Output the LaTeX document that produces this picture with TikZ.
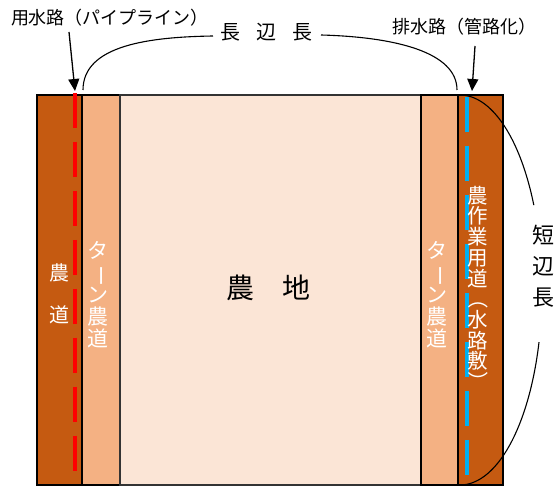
\documentclass[tikz,border=0pt]{standalone}
\usepackage{fontspec}
\usepackage{graphicx}
\newfontfamily\cjk{Noto Sans CJK JP}
\usetikzlibrary{arrows.meta}
\definecolor{roadbrown}{HTML}{C55A11}
\definecolor{turnroad}{HTML}{F4B183}
\definecolor{fieldpink}{HTML}{FBE5D6}
\definecolor{pipeblue}{HTML}{00B0F0}
\newcommand{\vbar}{\rotatebox[origin=c]{-90}{ー}}
\newcommand{\vparL}{\rotatebox[origin=c]{-90}{（}}
\newcommand{\vparR}{\rotatebox[origin=c]{-90}{）}}
\tikzset{
  strip/.style={draw=black, line width=1.1pt},
  lbl/.style={font=\cjk\fontsize{18}{20}\selectfont, inner sep=0pt},
  whitetxt/.style={text=white, align=center, inner sep=0pt},
  thinline/.style={line width=1.1pt, black},
  pointer/.style={line width=1.3pt, -{Triangle[width=11pt,length=12pt]}},
  dashred/.style={line width=4pt, red, dash pattern=on 35pt off 14pt},
  dashblue/.style={line width=4pt, pipeblue, dash pattern=on 35pt off 14pt},
}
\begin{document}
\begin{tikzpicture}[x=1pt,y=-1pt]
\useasboundingbox (0,0) rectangle (555,486);
% strips
\fill[roadbrown] (37,95) rectangle (82,485);
\fill[turnroad] (82,95) rectangle (120,485);
\fill[fieldpink] (120,95) rectangle (421,485);
\fill[turnroad] (421,95) rectangle (458,485);
\fill[roadbrown] (458,95) rectangle (503,485);
\draw[strip] (37,95) rectangle (82,485);
\draw[strip] (82,95) rectangle (120,485);
\draw[strip, draw=black!80] (120,95) rectangle (421,485);
\draw[strip] (421,95) rectangle (458,485);
\draw[strip] (458,95) rectangle (503,485);
% pipelines
\coordinate (redtop) at (75,93);
\coordinate (redbot) at (75,473);
\coordinate (bluetop) at (467,97);
\coordinate (bluebot) at (467,477);
\draw[dashred] (redtop) -- (redbot);
\draw[dashblue] (bluetop) -- (bluebot);
% strip texts
\node[whitetxt, font=\cjk\fontsize{20}{42}\selectfont] (noudou) at (59,294) {農\\道};
\node[whitetxt, font=\cjk\fontsize{21}{22}\selectfont] (turnL) at (98,295) {タ\\\vbar\\ン\\農\\道};
\node[whitetxt, font=\cjk\fontsize{21}{22}\selectfont] (turnR) at (437,295) {タ\\\vbar\\ン\\農\\道};
\node[whitetxt, font=\cjk\fontsize{20.5}{20.7}\selectfont] (sagyou) at (478,289) {農\\作\\業\\用\\道\\\vparL\\水\\路\\敷\\\vparR};
\node[inner sep=0pt, font=\cjk\fontsize{28}{30}\selectfont] (nouchi) at (268.5,288) {農\hspace{28pt}地};
% top labels
\node[lbl] (yousui) at (110,18) {用水路（パイプライン）};
\node[lbl] (haisui) at (464,27) {排水路（管路化）};
\node[inner sep=0pt, font=\cjk\fontsize{20}{22}\selectfont] (long) at (266,32) {長\hspace{16pt}辺\hspace{16pt}長};
\node[inner sep=0pt, align=center, font=\cjk\fontsize{22}{31}\selectfont] (short) at (543,266) {短\\辺\\長};
% arrows
\coordinate (a1s) at (69,32);
\coordinate (a1e) at (75,91);
\coordinate (a2s) at (475,46);
\coordinate (a2e) at (472,91);
\draw[pointer] (a1s) -- (a1e);
\draw[pointer] (a2s) -- (a2e);
% long side brace curves
\coordinate (l1) at (83,90);
\coordinate (l2) at (213,36);
\coordinate (r1) at (321,35);
\coordinate (r2) at (457,90);
\draw[thinline] (l1) .. controls (83,45) and (150,37) .. (l2);
\draw[thinline] (r1) .. controls (395,37) and (457,52) .. (r2);
% short side curve
\draw[thinline] plot[domain=-90:-25.8, samples=50] ({460+82*cos(\x)},{290+195*sin(\x)});
\draw[thinline] plot[domain=15.5:90, samples=50] ({460+82*cos(\x)},{290+195*sin(\x)});
\end{tikzpicture}
\end{document}
